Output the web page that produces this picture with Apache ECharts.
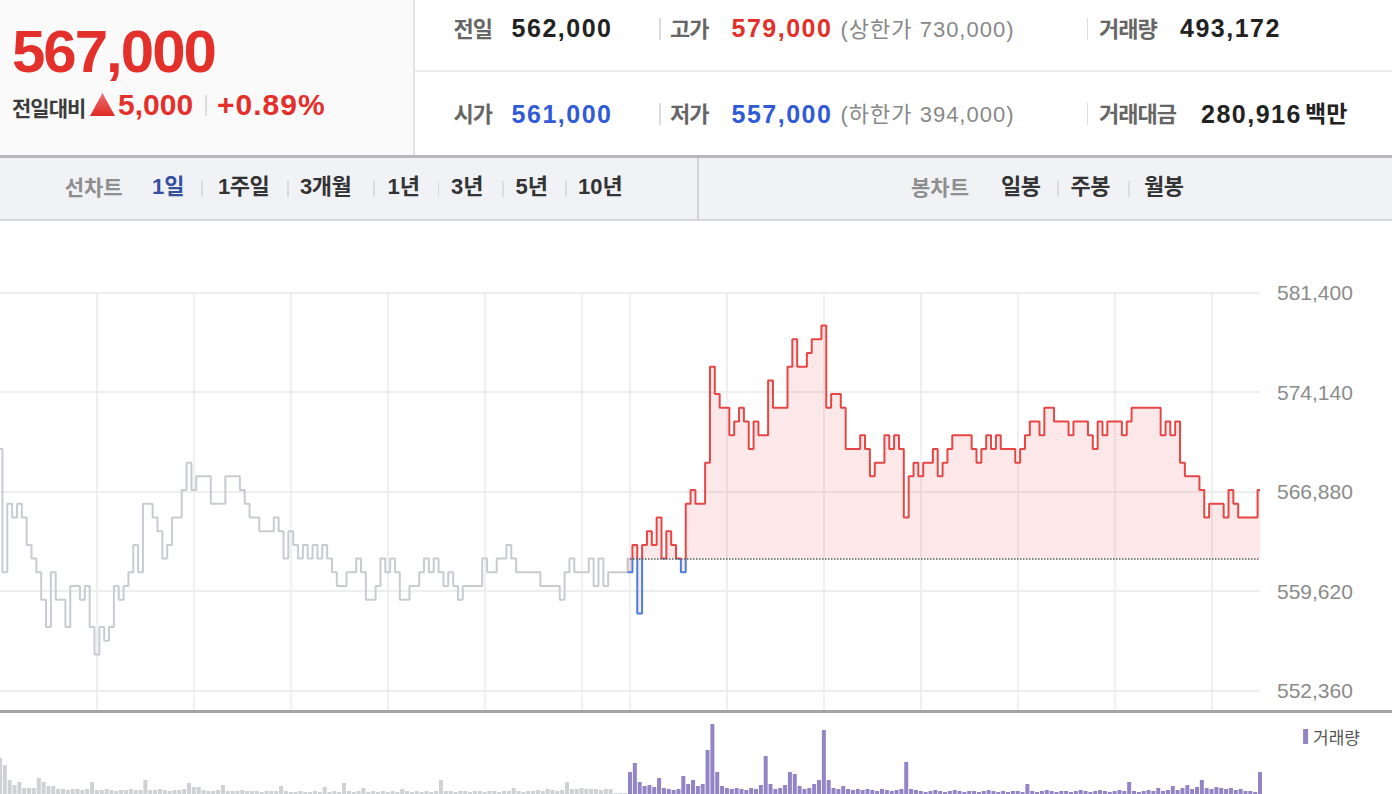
<!DOCTYPE html>
<html><head><meta charset="utf-8">
<script src="https://cdn.jsdelivr.net/npm/echarts@6/dist/echarts.min.js"></script>
<style>
html,body{margin:0;padding:0;background:#fff;}
body{width:1392px;height:794px;overflow:hidden;position:relative;font-family:"Liberation Sans","Noto Sans CJK KR",sans-serif;}
.t{position:absolute;white-space:nowrap;line-height:1;}
.bx{position:absolute;}
#chart{position:absolute;left:0;top:220px;width:1392px;height:574px;}
</style></head><body>
<div class="bx" style="left:0;top:0;width:413px;height:155px;background:#fafafa;border-right:2px solid #e3e3e3;"></div>
<div class="bx" style="left:415px;top:70px;width:977px;height:2px;background:#ececec;"></div>
<div class="bx" style="left:0;top:154.5px;width:1392px;height:3px;background:#b8b8b8;"></div>
<div class="bx" style="left:0;top:157.5px;width:1392px;height:61px;background:#f1f2f6;border-bottom:2px solid #d8d8d8;"></div>
<div class="bx" style="left:697px;top:157.5px;width:2px;height:62px;background:#d3d3d3;"></div>
<div class="bx" style="left:90px;top:93px;width:25px;height:23px;background:linear-gradient(#f07070,#dd2a26);clip-path:polygon(50% 0,100% 100%,0 100%);"></div>
<div id="chart"></div>
<div class="bx" style="left:0;top:709.5px;width:1392px;height:3px;background:#a6a6a6;z-index:5;"></div>
<script>
// ---------- header texts ----------
const RED = '#e3302b', BLUE = '#2f5bd6';
const headerPrice = '567,000';
const headerChange = '5,000';
const headerRate = '+0.89%';
// [text, left, baseline, size, color, bold, letterSpacing]
const headerTexts = [
  [headerPrice, 12, 73, 60, RED, 1, -2],
  ['전일대비', 12, 116, 21, '#3c3c3c', 1, -1],
  [headerChange, 118, 115.5, 30, RED, 1, 0],
  [headerRate, 217, 115.5, 30, RED, 1, 1],
  ['전일', 453.6, 37.5, 22, '#666', 1, -1],
  ['562,000', 511.6, 37.3, 25, '#222', 1, 1.5],
  ['고가', 670, 37.5, 22, '#666', 1, -1],
  ['579,000', 731.5, 37.3, 25, RED, 1, 1.5],
  ['(상한가 730,000)', 840.5, 37.3, 22, '#888', 0, 1],
  ['거래량', 1099, 37.5, 22, '#666', 1, -1],
  ['493,172', 1180, 37.3, 25, '#222', 1, 1.5],
  ['시가', 453.6, 122.9, 22, '#666', 1, -1],
  ['561,000', 511.6, 122.7, 25, BLUE, 1, 1.5],
  ['저가', 670, 122.9, 22, '#666', 1, -1],
  ['557,000', 731.5, 122.7, 25, BLUE, 1, 1.5],
  ['(하한가 394,000)', 840.5, 122.7, 22, '#888', 0, 1],
  ['거래대금', 1099, 122.9, 22, '#666', 1, -1],
  ['280,916', 1201, 122.7, 25, '#222', 1, 1.5],
  ['백만', 1305, 122.9, 23, '#222', 1, 0],
  ['선차트', 64.7, 195, 21, '#8e8e8e', 1, 0],
  ['1일', 152, 195, 22, '#34509f', 1, 0],
  ['1주일', 218, 195, 22, '#333', 1, -0.5],
  ['3개월', 300, 195, 22, '#333', 1, -0.5],
  ['1년', 387.5, 195, 22, '#333', 1, 0],
  ['3년', 451, 195, 22, '#333', 1, 0],
  ['5년', 515.6, 195, 22, '#333', 1, 0],
  ['10년', 578, 195, 22, '#333', 1, 0],
  ['봉차트', 911, 195, 21, '#8e8e8e', 1, 0],
  ['일봉', 1001, 195, 22, '#333', 1, -0.5],
  ['주봉', 1070.5, 195, 22, '#333', 1, -0.5],
  ['월봉', 1144, 195, 22, '#333', 1, -0.5]
];
// separators [left, top, height]
const separators = [
  [205, 95, 21], [659, 18, 22], [1086.6, 18, 22], [659, 103, 22], [1086.6, 103, 22],
  [201, 181, 16], [287, 181, 16], [373, 181, 16], [437.5, 181, 16], [502, 181, 16], [565, 181, 16],
  [1057, 181, 16], [1128, 181, 16]
];
headerTexts.forEach(([s, x, base, fs, c, b, ls]) => {
  const d = document.createElement('div');
  d.className = 't';
  d.textContent = s;
  d.style.cssText = `left:${x}px;top:${(base - 0.8465 * fs).toFixed(1)}px;font-size:${fs}px;color:${c};font-weight:${b ? 'bold' : 'normal'};letter-spacing:${ls}px;`;
  document.body.appendChild(d);
});
separators.forEach(([x, y, h]) => {
  const d = document.createElement('div');
  d.className = 'bx';
  d.style.cssText = `left:${x}px;top:${y}px;width:1.5px;height:${h}px;background:#dcdcdc;`;
  document.body.appendChild(d);
});

// ---------- chart data (3-minute samples) ----------
// previous day 09:00-15:30, price in thousand won
const prevPriceK = [570,561,566,565,566,565,563,562,561,559,
  557,561,559,559,557,560,560,559,560,557,
  555,557,556,557,560,559,560,561,563,561,
  566,566,565,564,562,563,565,565,567,569,
  567,568,568,568,566,566,566,568,568,568,
  567,566,565,565,564,564,564,565,564,562,
  564,563,562,563,562,563,562,563,562,561,
  560,560,561,561,562,561,559,559,560,562,
  561,562,561,559,559,560,560,561,562,561,
  562,561,560,561,560,559,560,560,560,560,
  562,561,561,562,562,563,562,561,561,561,
  561,561,560,560,560,560,559,561,562,561,
  561,561,562,560,562,560,561,561,561,561,
  562];
// today 09:00-15:30, price in thousand won
const todayPriceK = [561,563,558,563,564,563,565,562,564,563,
  562,561,566,567,566,566,569,576,574,573,
  573,571,572,573,572,570,572,571,571,575,
  573,573,573,576,578,576,576,577,578,578,
  579,573,574,574,573,570,570,570,571,570,
  568,569,569,571,570,571,570,565,568,569,
  568,569,569,570,568,569,570,571,571,571,
  571,570,569,570,571,570,571,570,570,570,
  569,570,571,572,572,571,573,573,572,572,
  572,571,572,572,572,571,570,572,571,572,
  572,572,571,572,573,573,573,573,573,573,
  571,572,571,572,569,568,568,568,567,565,
  566,566,566,565,567,566,565,565,565,565,
  567];
// volume, thousand shares per 3 minutes
const prevVolumeK = [18,14.5,7,4.5,6,3,3,3,8,6,
  4,4,2.5,2.5,2,2.5,2.5,2,2.5,6,
  2,2,2.5,2,1.5,2,2,2.5,2,2,
  7,2,2,2.5,2,1.5,2,2,2.5,5.5,
  3.5,3.5,2,1.5,1.5,2,4.5,1.5,1.5,1.5,
  2,1.5,1.5,1.5,1,1.5,1.5,1.5,4,1.5,
  1,1,1.5,1,1,1.5,1,3.5,1,1.5,
  1,5.5,1.5,1,1.5,3,1,1.5,1,1.5,
  1,1.5,1,2.5,1.5,1,1.5,1,1.5,1,
  1.5,7,1.5,1.5,1,1.5,1.5,1,1.5,1.5,
  1,1.5,1.5,1,1.5,1.5,3,1.5,1,1.5,
  1.5,2,1.5,2.5,2,1.5,2,6,2.5,2.5,
  3,2.5,2.5,2.5,2,2.5,2.5,0.5,0.5,0.5];
const todayVolumeK = [11,15.5,6,4,4.5,3.5,8,3,2.5,2,
  2.5,9,5,7,4,5,22,35,11,4,
  3,2.5,3,2.5,2,3,2.5,4.5,19,5,
  2.5,3,4.5,11,10,4,2.5,3,5,7,
  32,7,3,2.5,4,2.5,2,2.5,2,2.5,
  2,1.5,2.5,2,1.5,2,2.5,16,2.5,2,
  1.5,1,1.5,2,1.5,1,1.5,2,1.5,1,
  1.5,1.5,1,1.5,2,1.5,1,1.5,1,1.5,
  1.5,1,5,1.5,1,1.5,2,1.5,1,1.5,
  1.5,1,1.5,2,1.5,1,1.5,2,1.5,1,
  1.5,2,1.5,6,1.5,1,1.5,2,1.5,3,
  1.5,2,4,2,3,4.5,2.5,3.5,7,3,
  2.5,3.5,3,2.5,3,2,2.5,1.5,1.5,1,
  11];
const prevClose = 562000;
const yTickMin = 552360, yTickMax = 581400, yTickStep = 7260;

// category labels: previous day then today (today 09:00 shares the prev-day close slot)
const fmt = m => String(Math.floor(m / 60)).padStart(2, '0') + ':' + String(m % 60).padStart(2, '0');
const timeLabels = [];
for (let i = 0; i < prevPriceK.length - 1; i++) timeLabels.push(fmt(540 + 3 * i));
for (let j = 0; j < todayPriceK.length; j++) timeLabels.push(fmt(540 + 3 * j));
const offset = prevPriceK.length - 1; // 130
const last = timeLabels.length - 1;
const pad = n => Array(n).fill('-');

const prevLine = prevPriceK.map(v => v * 1000);
const todayLine = pad(offset).concat(todayPriceK.map(v => v * 1000));
const prevVol = prevVolumeK.concat(pad(timeLabels.length - prevVolumeK.length));
const todayVol = pad(offset).concat(todayVolumeK);

const chart = echarts.init(document.getElementById('chart'), null, { renderer: 'svg' });
chart.setOption({
  animation: false,
  grid: [
    { left: 0, top: 72.7, width: 1260, height: 418 },
    { left: 0, top: 72.7, width: 1260, height: 398 },
    { left: 0, top: 493, width: 1260, height: 81 }
  ],
  xAxis: [
    { type: 'category', gridIndex: 0, data: timeLabels, boundaryGap: false,
      axisTick: { show: false }, axisLabel: { show: false }, axisLine: { show: false },
      splitLine: { show: true, interval: (i, v) => i > 0 && v.slice(3) === '00',
        lineStyle: { color: '#ebebeb', width: 1.5 } } },
    { type: 'value', gridIndex: 1, min: 0, max: 1, show: false },
    { type: 'category', gridIndex: 2, data: timeLabels, boundaryGap: false, show: false }
  ],
  yAxis: [
    { type: 'value', gridIndex: 0, min: yTickMax - 418 * (yTickMax - yTickMin) / 398, max: yTickMax, show: false, splitLine: { show: false } },
    { type: 'value', gridIndex: 1, position: 'right', min: yTickMin, max: yTickMax, interval: yTickStep,
      axisLine: { show: false }, axisTick: { show: false },
      splitLine: { show: true, lineStyle: { color: '#eeeeee', width: 2 } },
      axisLabel: { margin: 17, fontSize: 21, color: '#8b8b8b', fontFamily: 'Liberation Sans',
        formatter: v => Math.round(v).toLocaleString('en-US') } },
    { type: 'value', gridIndex: 2, min: 0, max: 40.5, show: false }
  ],
  visualMap: {
    show: false, type: 'piecewise', seriesIndex: 1, dimension: 1,
    pieces: [{ gte: 500000, lt: prevClose, color: '#4a7fdb' }, { gte: prevClose, lte: 700000, color: '#e84545' }]
  },
  legend: {
    data: ['거래량'], right: 32, top: 508, padding: 0, itemWidth: 5, itemHeight: 15, icon: 'rect',
    selectedMode: false, textStyle: { fontSize: 17, color: '#555', fontFamily: 'Noto Sans CJK KR' }
  },
  series: [
    { type: 'line', name: '전일', xAxisIndex: 0, yAxisIndex: 0, data: prevLine, symbol: 'none', step: 'middle',
      silent: true, lineStyle: { color: '#c8cbd0', width: 2 }, z: 2 },
    { type: 'line', name: '당일', xAxisIndex: 0, yAxisIndex: 0, data: todayLine, symbol: 'none', step: 'middle',
      silent: true, lineStyle: { width: 2 }, z: 3,
      areaStyle: { origin: prevClose, color: 'rgba(232,64,64,0.12)', opacity: 1 },
      markLine: { silent: true, symbol: ['none', 'none'], label: { show: false },
        lineStyle: { type: 'dotted', color: '#555', width: 1.5 },
        data: [[{ coord: [offset, prevClose] }, { coord: [last, prevClose] }]] } },
    { type: 'bar', name: '전일거래량', xAxisIndex: 2, yAxisIndex: 2, data: prevVol, barWidth: 4,
      barGap: '-100%', silent: true, itemStyle: { color: '#cfd1d4' } },
    { type: 'bar', name: '거래량', xAxisIndex: 2, yAxisIndex: 2, data: todayVol, barWidth: 4,
      barGap: '-100%', silent: true, itemStyle: { color: '#9384c6' } }
  ]
});
</script>
</body></html>
